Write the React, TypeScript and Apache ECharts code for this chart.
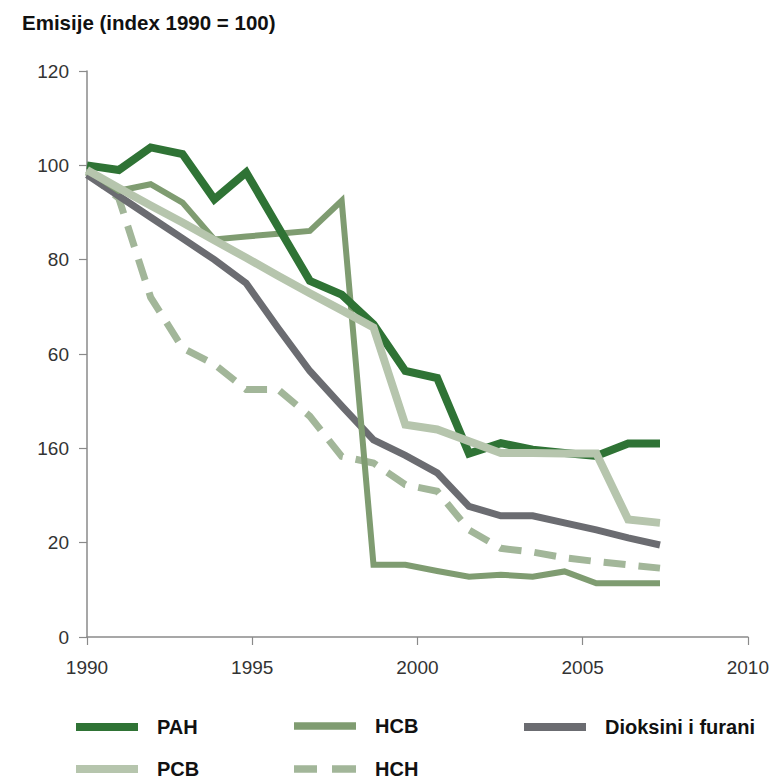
import React, { useEffect, useRef } from "react";
import * as echarts from "echarts";

// ---- data ----
const titleText = "Emisije (index 1990 = 100)";
const years = ["1990","1991","1992","1993","1994","1995","1996","1997","1998","1999","2000","2001","2002","2003","2004","2005","2006","2007","2008"];
const xTickLabels = ["1990", "1995", "2000", "2005", "2010"];
const yTickLabels = ["0", "20", "160", "60", "80", "100", "120"];

const seriesNames = ["PAH", "HCB", "Dioksini i furani", "PCB", "HCH"];
const pah = [100, 99, 103.8, 102.4, 92.8, 98.5, 87, 75.5, 72.6, 66.3, 56.4, 54.9, 38.9, 41.1, 39.7, 39, 38.4, 41, 41];
const hcb = [99, 94.6, 96, 92.1, 84.3, 84.9, 85.5, 86.1, 92.5, 15.3, 15.3, 14, 12.8, 13.2, 12.8, 13.9, 11.4, 11.4, 11.4];
const dioksini = [98, 93.5, 89, 84.5, 80, 75, 65.5, 56.4, 49, 41.8, 38.5, 34.8, 27.7, 25.7, 25.7, 24.2, 22.7, 21, 19.5];
const pcb = [99, 95.2, 91.5, 87.9, 84.1, 80.4, 76.6, 72.9, 69.3, 65.6, 45, 44, 41.5, 39, 39, 38.9, 38.9, 24.9, 24.2];
const hch = [98.5, 93, 72, 61.3, 57.8, 52.5, 52.5, 46.8, 38.3, 36.9, 32.3, 30.9, 22.7, 18.8, 18, 16.8, 16, 15.3, 14.6];

const colors = {
  PAH: "#2f7335",
  HCB: "#7f9c71",
  DIO: "#6b6c71",
  PCB: "#b6c5ad",
  HCH: "#a2b699",
};

const FONT = "'Liberation Sans', Arial, Helvetica, sans-serif";

export default function App() {
  const ref = useRef<HTMLDivElement>(null);
  useEffect(() => {
    if (!ref.current) return;
    const chart = echarts.init(ref.current, undefined, { renderer: "svg" });
    const axisColor = "#8a8a8a";
    const legendText = { fontSize: 20, fontWeight: "bold", color: "#111", fontFamily: FONT, padding: [0, 0, 0, 14] };
    const mkLine = (name: string, data: number[], color: string, width: number, dashed?: boolean) => ({
      name,
      type: "line",
      xAxisIndex: 1,
      yAxisIndex: 1,
      data,
      color,
      showSymbol: false,
      symbol: "none",
      lineStyle: { color, width, type: dashed ? [22, 13] : "solid", cap: "butt", join: "miter" },
      itemStyle: { color },
    });
    const mkLegend = (name: string, icon: string, left: number, top: number, h: number) => ({
      data: [{ name, icon }],
      left,
      top,
      padding: 0,
      itemWidth: 62,
      itemHeight: h,
      itemStyle: { borderWidth: 0 },
      textStyle: legendText,
      selectedMode: false,
    });
    chart.setOption({
      animation: false,
      backgroundColor: "#fff",
      title: {
        text: titleText,
        left: 22,
        top: 12,
        padding: 0,
        textStyle: { fontSize: 20.5, fontWeight: "bold", color: "#111", fontFamily: FONT },
      },
      grid: [
        { left: 87, top: 71, width: 661, height: 566 },
        { left: 87, top: 71, width: 573, height: 566 },
      ],
      xAxis: [
        {
          type: "value",
          gridIndex: 0,
          min: 1990,
          max: 2010,
          interval: 5,
          axisLine: { show: true, lineStyle: { color: axisColor, width: 1.5 } },
          axisTick: { show: true, length: 8, lineStyle: { color: axisColor, width: 1.2 } },
          splitLine: { show: false },
          axisLabel: {
            margin: 21,
            fontSize: 19,
            color: "#333",
            fontFamily: FONT,
            formatter: (v: number) => xTickLabels[Math.round((v - 1990) / 5)] ?? "",
          },
        },
        {
          type: "category",
          gridIndex: 1,
          data: years,
          boundaryGap: false,
          show: false,
        },
      ],
      yAxis: [
        {
          type: "value",
          gridIndex: 0,
          min: 0,
          max: 120,
          interval: 20,
          axisLine: { show: true, lineStyle: { color: axisColor, width: 1.5 } },
          axisTick: { show: true, length: 8, lineStyle: { color: axisColor, width: 1.2 } },
          splitLine: { show: false },
          axisLabel: {
            margin: 18,
            fontSize: 19,
            color: "#333",
            fontFamily: FONT,
            formatter: (v: number) => yTickLabels[Math.round(v / 20)] ?? "",
          },
        },
        { type: "value", gridIndex: 1, min: 0, max: 120, show: false },
      ],
      legend: [
        mkLegend(seriesNames[0], "rect", 76, 717, 8),
        mkLegend(seriesNames[3], "rect", 76, 759, 8),
        mkLegend(seriesNames[1], "rect", 294, 716, 7.5),
        mkLegend(seriesNames[4], "path://M0,0H23V7.5H0ZM38,0H62V7.5H38Z", 294, 759, 7.5),
        mkLegend(seriesNames[2], "rect", 524, 717, 8),
      ],
      series: [
        mkLine(seriesNames[4], hch, colors.HCH, 7, true),
        mkLine(seriesNames[2], dioksini, colors.DIO, 7),
        mkLine(seriesNames[1], hcb, colors.HCB, 6),
        mkLine(seriesNames[0], pah, colors.PAH, 8),
        mkLine(seriesNames[3], pcb, colors.PCB, 8),
      ],
    });
    return () => chart.dispose();
  }, []);
  return (
    <div
      ref={ref}
      style={{ position: "fixed", left: 0, top: 0, width: 772, height: 781, background: "#fff" }}
    />
  );
}
